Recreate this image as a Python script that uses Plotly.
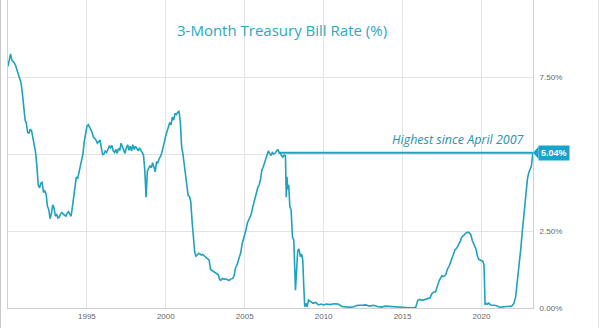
import plotly.graph_objects as go

# ---- data ----
dates = [
    "1990-01-01","1990-02-01","1990-03-01","1990-04-01","1990-05-01","1990-06-01","1990-07-01","1990-08-01","1990-09-01","1990-10-01","1990-11-01","1990-12-01",
    "1991-01-01","1991-02-01","1991-03-01","1991-04-01","1991-05-01","1991-06-01","1991-07-01","1991-08-01","1991-09-01","1991-10-01","1991-11-01","1991-12-01",
    "1992-01-01","1992-02-01","1992-03-01","1992-04-01","1992-05-01","1992-06-01","1992-07-01","1992-08-01","1992-09-01","1992-10-01","1992-11-01","1992-12-01",
    "1993-01-01","1993-02-01","1993-03-01","1993-04-01","1993-05-01","1993-06-01","1993-07-01","1993-08-01","1993-09-01","1993-10-01","1993-11-01","1993-12-01",
    "1994-01-01","1994-02-01","1994-03-01","1994-04-01","1994-05-01","1994-06-01","1994-07-01","1994-08-01","1994-09-01","1994-10-01","1994-11-01","1994-12-01",
    "1995-01-01","1995-02-01","1995-03-01","1995-04-01","1995-05-01","1995-06-01","1995-07-01","1995-08-01","1995-09-01","1995-10-01","1995-11-01","1995-12-01",
    "1996-01-01","1996-02-01","1996-03-01","1996-04-01","1996-05-01","1996-06-01","1996-07-01","1996-08-01","1996-09-01","1996-10-01","1996-11-01","1996-12-01",
    "1997-01-01","1997-02-01","1997-03-01","1997-04-01","1997-05-01","1997-06-01","1997-07-01","1997-08-01","1997-09-01","1997-10-01","1997-11-01","1997-12-01",
    "1998-01-01","1998-02-01","1998-03-01","1998-04-01","1998-05-01","1998-06-01","1998-07-01","1998-08-01","1998-09-01","1998-10-01","1998-11-01","1998-12-01",
    "1999-01-01","1999-02-01","1999-03-01","1999-04-01","1999-05-01","1999-06-01","1999-07-01","1999-08-01","1999-09-01","1999-10-01","1999-11-01","1999-12-01",
    "2000-01-01","2000-02-01","2000-03-01","2000-04-01","2000-05-01","2000-06-01","2000-07-01","2000-08-01","2000-09-01","2000-10-01","2000-11-01","2000-12-01",
    "2001-01-01","2001-02-01","2001-03-01","2001-04-01","2001-05-01","2001-06-01","2001-07-01","2001-08-01","2001-09-01","2001-10-01","2001-11-01","2001-12-01",
    "2002-01-01","2002-02-01","2002-03-01","2002-04-01","2002-05-01","2002-06-01","2002-07-01","2002-08-01","2002-09-01","2002-10-01","2002-11-01","2002-12-01",
    "2003-01-01","2003-02-01","2003-03-01","2003-04-01","2003-05-01","2003-06-01","2003-07-01","2003-08-01","2003-09-01","2003-10-01","2003-11-01","2003-12-01",
    "2004-01-01","2004-02-01","2004-03-01","2004-04-01","2004-05-01","2004-06-01","2004-07-01","2004-08-01","2004-09-01","2004-10-01","2004-11-01","2004-12-01",
    "2005-01-01","2005-02-01","2005-03-01","2005-04-01","2005-05-01","2005-06-01","2005-07-01","2005-08-01","2005-09-01","2005-10-01","2005-11-01","2005-12-01",
    "2006-01-01","2006-02-01","2006-03-01","2006-04-01","2006-05-01","2006-06-01","2006-07-01","2006-08-01","2006-09-01","2006-10-01","2006-11-01","2006-12-01",
    "2007-01-01","2007-02-01","2007-03-01","2007-04-01","2007-05-01","2007-06-01","2007-07-01","2007-08-01","2007-08-20","2007-09-05","2007-09-25","2007-10-15","2007-11-10","2007-12-10",
    "2008-01-10","2008-02-10","2008-03-20","2008-04-10","2008-05-10","2008-06-10","2008-07-10","2008-08-10","2008-09-05","2008-09-25","2008-10-20","2008-11-15","2008-12-15",
    "2009-01-15","2009-03-01","2009-05-01","2009-07-01","2009-09-01","2009-11-01",
    "2010-01-01","2010-03-01","2010-06-01","2010-09-01","2010-12-01",
    "2011-03-01","2011-06-01","2011-09-01","2011-12-01",
    "2012-03-01","2012-06-01","2012-09-01","2012-12-01",
    "2013-03-01","2013-06-01","2013-09-01","2013-12-01",
    "2014-03-01","2014-06-01","2014-09-01","2014-12-01",
    "2015-03-01","2015-06-01","2015-09-01","2015-11-01","2015-12-20",
    "2016-02-01","2016-04-01","2016-06-01","2016-08-01","2016-10-01","2016-11-01","2016-12-20",
    "2017-02-01","2017-03-20","2017-05-01","2017-07-01","2017-08-01","2017-09-01","2017-10-01","2017-11-01","2017-12-20",
    "2018-02-01","2018-03-01","2018-04-01","2018-05-01","2018-06-01","2018-07-01","2018-08-01","2018-09-01","2018-10-01","2018-11-01","2018-12-01",
    "2019-01-01","2019-02-01","2019-03-01","2019-04-01","2019-05-01","2019-06-01","2019-07-01","2019-08-01","2019-09-01","2019-10-01","2019-11-01","2019-12-01",
    "2020-01-01","2020-02-01","2020-03-01","2020-03-25","2020-04-15","2020-05-15","2020-06-15","2020-08-01","2020-10-01","2020-12-01",
    "2021-02-01","2021-04-01","2021-06-01","2021-08-01","2021-10-01","2021-12-01",
    "2022-01-20","2022-03-01","2022-04-01","2022-05-01","2022-06-01","2022-07-01","2022-08-01","2022-09-01","2022-10-01","2022-11-01","2022-12-01",
    "2023-01-01","2023-02-01","2023-03-01","2023-04-05",
]
rates = [
    7.85,8.10,8.25,8.05,8.00,7.95,7.85,7.70,7.62,7.45,7.30,6.95,
    6.40,6.10,6.00,5.70,5.68,5.80,5.75,5.50,5.30,5.05,4.60,4.00,
    3.90,4.05,4.08,3.75,3.80,3.70,3.30,3.20,2.90,3.05,3.35,3.25,
    2.98,3.05,2.92,2.95,3.05,3.10,3.05,3.02,2.98,3.08,3.13,3.05,
    2.98,3.30,3.55,3.95,4.25,4.20,4.40,4.55,4.75,5.00,5.40,5.65,
    5.90,5.95,5.85,5.80,5.70,5.55,5.50,5.45,5.35,5.40,5.45,5.20,
    4.98,5.00,5.10,5.05,5.18,5.25,5.20,5.28,5.10,5.05,5.15,5.02,
    5.18,5.12,5.35,5.25,5.15,5.02,5.20,5.30,5.12,5.25,5.10,5.30,
    5.15,5.25,5.18,5.10,5.20,5.12,5.08,4.98,4.50,3.60,4.45,4.55,
    4.62,4.55,4.72,4.58,4.42,4.75,4.70,4.85,4.92,5.05,5.30,5.40,
    5.60,5.78,5.88,6.02,5.95,6.20,6.10,6.32,6.28,6.35,6.38,6.05,
    5.25,5.00,4.65,4.40,3.90,3.65,3.62,3.45,2.80,2.20,1.80,1.68,
    1.72,1.78,1.76,1.72,1.74,1.70,1.68,1.64,1.60,1.55,1.25,1.22,
    1.18,1.17,1.12,1.10,1.08,0.92,0.90,0.96,0.94,0.93,0.94,0.90,
    0.89,0.93,0.94,0.96,1.06,1.30,1.38,1.52,1.68,1.80,2.08,2.22,
    2.38,2.55,2.75,2.85,2.90,3.05,3.25,3.45,3.55,3.75,3.92,4.00,
    4.18,4.48,4.56,4.68,4.85,4.95,5.10,5.02,4.95,5.05,5.00,5.02,
    5.08,5.15,5.06,5.04,4.95,4.90,4.96,4.95,3.60,4.26,3.85,4.00,3.30,3.18,
    2.31,2.20,0.58,1.30,1.85,1.92,1.67,1.75,1.55,0.80,0.04,0.15,0.04,
    0.26,0.21,0.15,0.18,0.10,0.13,
    0.10,0.13,0.11,0.14,0.13,
    0.05,0.03,0.02,0.04,
    0.09,0.09,0.10,0.06,
    0.09,0.05,0.03,0.06,
    0.05,0.03,0.02,0.03,
    0.02,0.01,0.01,0.02,0.25,
    0.28,0.25,0.28,0.30,0.33,0.45,0.52,
    0.52,0.75,0.90,1.05,1.02,1.04,1.10,1.25,1.38,
    1.55,1.70,1.78,1.90,1.93,2.00,2.08,2.18,2.30,2.35,2.40,
    2.42,2.45,2.46,2.43,2.38,2.20,2.10,1.95,1.90,1.68,1.58,1.56,
    1.55,1.52,1.40,0.10,0.15,0.12,0.16,0.10,0.09,0.08,
    0.04,0.02,0.04,0.05,0.05,0.06,
    0.15,0.35,0.75,1.10,1.45,1.95,2.45,2.95,3.35,3.75,4.20,
    4.40,4.55,4.60,5.04,
]

x_tick_vals = ["1995-01-01","2000-01-01","2005-01-01","2010-01-01","2015-01-01","2020-01-01"]
x_tick_text = ["1995","2000","2005","2010","2015","2020"]
y_tick_vals = [0, 2.5, 5, 7.5, 10]
y_tick_text = ["0.00%", "2.50%", "", "7.50%", ""]

highest_start = "2007-02-20"
latest_value = rates[-1]
latest_date = dates[-1]

title_text = "3-Month Treasury Bill Rate (%)"
note_text = "Highest since April 2007"

line_color = "#1fa2bc"
teal_text = "#2aa9be"

fig = go.Figure()

fig.add_trace(go.Scatter(
    x=dates, y=rates, mode="lines",
    line=dict(color=line_color, width=1.6),
    hoverinfo="skip", showlegend=False,
))

# horizontal "highest since" line
fig.add_trace(go.Scatter(
    x=[highest_start, latest_date], y=[latest_value, latest_value], mode="lines",
    line=dict(color=line_color, width=2),
    hoverinfo="skip", showlegend=False,
))

fig.update_layout(
    width=600, height=328,
    margin=dict(l=8, r=67, t=0, b=20),
    paper_bgcolor="white", plot_bgcolor="white",
    xaxis=dict(
        type="date",
        range=["1990-01-01", "2023-04-08"],
        tickvals=x_tick_vals, ticktext=x_tick_text,
        showgrid=True, gridcolor="#e3e3e3", gridwidth=1,
        showline=True, linecolor="#cfcfcf", linewidth=1, mirror=True,
        ticks="", tickfont=dict(family="Liberation Sans, Arial", size=8, color="#666"),
        zeroline=False, fixedrange=True,
    ),
    yaxis=dict(
        side="right",
        range=[0, 10],
        tickvals=y_tick_vals, ticktext=y_tick_text,
        showgrid=True, gridcolor="#e3e3e3", gridwidth=1,
        showline=True, linecolor="#cfcfcf", linewidth=1, mirror=True,
        ticks="", ticklabelstandoff=4,
        tickfont=dict(family="Liberation Sans, Arial", size=8, color="#666"),
        zeroline=False, fixedrange=True,
    ),
)

# title
fig.add_annotation(
    xref="paper", yref="paper", x=0.522, y=0.903,
    text=title_text, showarrow=False, xanchor="center", yanchor="middle",
    font=dict(family="Open Sans", size=15, color=teal_text),
)

# note above the line
fig.add_annotation(
    xref="paper", yref="y", x=0.988, y=latest_value, yshift=3,
    text=note_text, showarrow=False, xanchor="right", yanchor="bottom",
    font=dict(family="Open Sans", size=12.5, color="#2a92a8", style="italic"),
)

# latest value label box
fig.add_annotation(
    xref="paper", yref="y", x=1.0, y=latest_value, xshift=5,
    text="<b>5.04%</b>", showarrow=False, xanchor="left", yanchor="middle",
    font=dict(family="Liberation Sans, Arial", size=9, color="white"),
    bgcolor="#19a3cc", borderpad=2,
)
# pointer of the label box
fig.add_shape(
    type="path", xref="paper", yref="y",
    path="M 1.0,5.04 L 1.0105,5.24 L 1.0105,4.84 Z",
    fillcolor="#19a3cc", line=dict(width=0),
)

# screenshot frame lines
fig.add_shape(type="line", xref="paper", yref="paper",
              x0=-0.0142, x1=-0.0142, y0=-0.07, y1=1.0,
              line=dict(color="#c8c8c8", width=1))
fig.add_shape(type="line", xref="paper", yref="paper",
              x0=1.1248, x1=1.1248, y0=-0.07, y1=1.0,
              line=dict(color="#e6e6e6", width=1))

fig.write_html("out.html")
